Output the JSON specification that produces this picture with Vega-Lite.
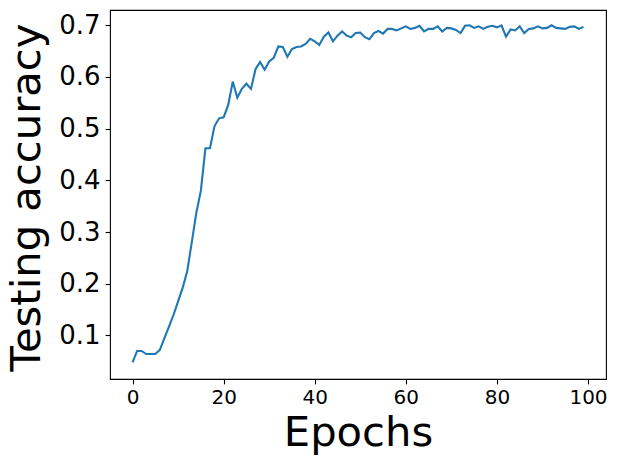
{
  "$schema": "https://vega.github.io/schema/vega-lite/v6.json",
  "width": 496,
  "height": 369,
  "autosize": {"type": "none"},
  "padding": {"left": 110, "top": 10, "right": 11, "bottom": 85},
  "background": "white",
  "config": {
    "view": {"stroke": "black", "strokeWidth": 1.1},
    "font": "DejaVu Sans",
    "axis": {
      "grid": false,
      "domain": false,
      "tickColor": "black",
      "tickWidth": 1.1,
      "tickSize": 4.9,
      "labelColor": "black",
      "titleColor": "black",
      "labelFont": "DejaVu Sans",
      "titleFont": "DejaVu Sans",
      "titleFontWeight": "normal"
    }
  },
  "data": {
    "values": [
      {"epoch": 0, "acc": 0.048}, {"epoch": 1, "acc": 0.070}, {"epoch": 2, "acc": 0.070},
      {"epoch": 3, "acc": 0.064}, {"epoch": 4, "acc": 0.064}, {"epoch": 5, "acc": 0.064},
      {"epoch": 6, "acc": 0.072}, {"epoch": 7, "acc": 0.095}, {"epoch": 8, "acc": 0.117},
      {"epoch": 9, "acc": 0.140}, {"epoch": 10, "acc": 0.166}, {"epoch": 11, "acc": 0.192},
      {"epoch": 12, "acc": 0.224}, {"epoch": 13, "acc": 0.280}, {"epoch": 14, "acc": 0.337},
      {"epoch": 15, "acc": 0.380}, {"epoch": 16, "acc": 0.462}, {"epoch": 17, "acc": 0.462},
      {"epoch": 18, "acc": 0.505}, {"epoch": 19, "acc": 0.520}, {"epoch": 20, "acc": 0.522},
      {"epoch": 21, "acc": 0.546}, {"epoch": 22, "acc": 0.591}, {"epoch": 23, "acc": 0.560},
      {"epoch": 24, "acc": 0.577}, {"epoch": 25, "acc": 0.587}, {"epoch": 26, "acc": 0.577},
      {"epoch": 27, "acc": 0.615}, {"epoch": 28, "acc": 0.629}, {"epoch": 29, "acc": 0.614},
      {"epoch": 30, "acc": 0.630}, {"epoch": 31, "acc": 0.637}, {"epoch": 32, "acc": 0.659},
      {"epoch": 33, "acc": 0.658}, {"epoch": 34, "acc": 0.639}, {"epoch": 35, "acc": 0.654},
      {"epoch": 36, "acc": 0.658}, {"epoch": 37, "acc": 0.659}, {"epoch": 38, "acc": 0.664},
      {"epoch": 39, "acc": 0.674}, {"epoch": 40, "acc": 0.669}, {"epoch": 41, "acc": 0.662},
      {"epoch": 42, "acc": 0.678}, {"epoch": 43, "acc": 0.686}, {"epoch": 44, "acc": 0.669},
      {"epoch": 45, "acc": 0.680}, {"epoch": 46, "acc": 0.688}, {"epoch": 47, "acc": 0.680},
      {"epoch": 48, "acc": 0.677}, {"epoch": 49, "acc": 0.685}, {"epoch": 50, "acc": 0.686},
      {"epoch": 51, "acc": 0.677}, {"epoch": 52, "acc": 0.673}, {"epoch": 53, "acc": 0.685},
      {"epoch": 54, "acc": 0.689}, {"epoch": 55, "acc": 0.684}, {"epoch": 56, "acc": 0.693},
      {"epoch": 57, "acc": 0.693}, {"epoch": 58, "acc": 0.690}, {"epoch": 59, "acc": 0.694},
      {"epoch": 60, "acc": 0.698}, {"epoch": 61, "acc": 0.693}, {"epoch": 62, "acc": 0.695},
      {"epoch": 63, "acc": 0.699}, {"epoch": 64, "acc": 0.688}, {"epoch": 65, "acc": 0.693},
      {"epoch": 66, "acc": 0.693}, {"epoch": 67, "acc": 0.698}, {"epoch": 68, "acc": 0.688},
      {"epoch": 69, "acc": 0.695}, {"epoch": 70, "acc": 0.694}, {"epoch": 71, "acc": 0.691},
      {"epoch": 72, "acc": 0.685}, {"epoch": 73, "acc": 0.699}, {"epoch": 74, "acc": 0.700},
      {"epoch": 75, "acc": 0.695}, {"epoch": 76, "acc": 0.698}, {"epoch": 77, "acc": 0.693},
      {"epoch": 78, "acc": 0.697}, {"epoch": 79, "acc": 0.699}, {"epoch": 80, "acc": 0.696},
      {"epoch": 81, "acc": 0.700}, {"epoch": 82, "acc": 0.678}, {"epoch": 83, "acc": 0.692},
      {"epoch": 84, "acc": 0.690}, {"epoch": 85, "acc": 0.698}, {"epoch": 86, "acc": 0.685},
      {"epoch": 87, "acc": 0.693}, {"epoch": 88, "acc": 0.694}, {"epoch": 89, "acc": 0.698},
      {"epoch": 90, "acc": 0.694}, {"epoch": 91, "acc": 0.695}, {"epoch": 92, "acc": 0.700},
      {"epoch": 93, "acc": 0.695}, {"epoch": 94, "acc": 0.694}, {"epoch": 95, "acc": 0.693},
      {"epoch": 96, "acc": 0.697}, {"epoch": 97, "acc": 0.698}, {"epoch": 98, "acc": 0.693},
      {"epoch": 99, "acc": 0.697}
    ]
  },
  "mark": {"type": "line", "color": "#1f77b4", "strokeWidth": 2.1, "clip": true},
  "encoding": {
    "x": {
      "field": "epoch",
      "type": "quantitative",
      "scale": {"domain": [-4.95, 103.95], "nice": false, "zero": false},
      "axis": {
        "title": "Epochs",
        "values": [0, 20, 40, 60, 80, 100],
        "format": "d",
        "labelFontSize": 20,
        "labelPadding": 4,
        "titleFontSize": 41.7,
        "titleY": 33,
        "titleX": 248
      }
    },
    "y": {
      "field": "acc",
      "type": "quantitative",
      "scale": {"domain": [0.0157, 0.7296], "nice": false, "zero": false},
      "axis": {
        "title": "Testing accuracy",
        "values": [0.1, 0.2, 0.3, 0.4, 0.5, 0.6, 0.7],
        "format": ".1f",
        "labelFontSize": 26,
        "labelPadding": 5,
        "titleFontSize": 41.7,
        "titleX": -62,
        "titleY": 187
      }
    }
  }
}
